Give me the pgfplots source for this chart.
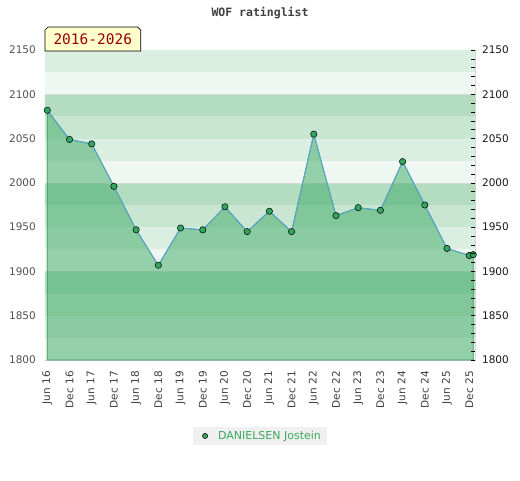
\documentclass[border=0pt]{standalone}
\usepackage{pgfplots}
\pgfplotsset{compat=1.18}
\usepackage{fontspec}
\setmainfont{DejaVu Sans}
\newfontfamily\monofont{DejaVu Sans Mono}
\definecolor{bandA}{HTML}{B3DCC1}
\definecolor{bandB}{HTML}{C8E6D2}
\definecolor{bandC}{HTML}{DBEEE2}
\definecolor{bandD}{HTML}{EEF7F1}
\definecolor{fillgreen}{RGB}{60,170,100}
\definecolor{edgegreen}{RGB}{50,150,85}
\definecolor{lineblue}{HTML}{5BA4D8}
\definecolor{markgreen}{RGB}{50,165,95}
\definecolor{legtext}{RGB}{58,168,92}
\definecolor{boxyellow}{HTML}{FFFFCC}
\definecolor{darkred}{HTML}{990000}
\begin{document}
\begin{tikzpicture}[x=1pt,y=1pt]
\path[use as bounding box] (0,0) rectangle (520,480);
\begin{axis}[
  at={(45pt,120pt)}, anchor=south west, scale only axis,
  width=430pt, height=310pt,
  xmin=-0.104, xmax=19.26, ymin=1800, ymax=2150,
  axis line style={draw=black!17},
  /pgf/number format/assume math mode=true,
  /pgf/number format/1000 sep={},
  ytick={1800,1850,...,2150},
  yticklabel style={font=\fontsize{10.5}{12}\selectfont, text=black!68, inner sep=0pt, xshift=-9pt},
  xtick={0,...,19},
  xticklabels={Jun 16,Dec 16,Jun 17,Dec 17,Jun 18,Dec 18,Jun 19,Dec 19,Jun 20,Dec 20,Jun 21,Dec 21,Jun 22,Dec 22,Jun 23,Dec 23,Jun 24,Dec 24,Jun 25,Dec 25},
  xticklabel style={font=\fontsize{10.5}{12}\selectfont, text=black!75, rotate=90, anchor=east, inner sep=0pt},
  xticklabel shift=11pt,
  major tick length=0pt,
  ytick pos=left, xtick pos=bottom,
  legend style={at={(0.5,-0.245)}, anchor=center, fill=black!6, draw=none,
    font=\fontsize{11}{13}\selectfont, text=legtext, inner xsep=4pt, inner ysep=2pt},
  legend image code/.code={\path[draw=none,fill=none] (0,0) rectangle (19pt,0); \draw[fill=markgreen, draw=black, line width=0.5pt] (8pt,0) circle (2.6pt);},
]
% background bands
\fill[bandC] (axis cs:-1,2125) rectangle (axis cs:21,2150);
\fill[bandD] (axis cs:-1,2100) rectangle (axis cs:21,2125);
\fill[bandA] (axis cs:-1,2075) rectangle (axis cs:21,2100);
\fill[bandB] (axis cs:-1,2050) rectangle (axis cs:21,2075);
\fill[bandC] (axis cs:-1,2025) rectangle (axis cs:21,2050);
\fill[bandD] (axis cs:-1,2000) rectangle (axis cs:21,2025);
\fill[bandA] (axis cs:-1,1975) rectangle (axis cs:21,2000);
\fill[bandB] (axis cs:-1,1950) rectangle (axis cs:21,1975);
\fill[bandC] (axis cs:-1,1925) rectangle (axis cs:21,1950);
\fill[bandD] (axis cs:-1,1900) rectangle (axis cs:21,1925);
\fill[bandA] (axis cs:-1,1875) rectangle (axis cs:21,1900);
\fill[bandB] (axis cs:-1,1850) rectangle (axis cs:21,1875);
\fill[bandC] (axis cs:-1,1825) rectangle (axis cs:21,1850);
\fill[bandD] (axis cs:-1,1800) rectangle (axis cs:21,1825);
\draw[black!15] (axis cs:-1,2100) -- (axis cs:21,2100);
\draw[black!15] (axis cs:-1,2000) -- (axis cs:21,2000);
\draw[black!15] (axis cs:-1,1900) -- (axis cs:21,1900);
\addplot[fill=fillgreen, fill opacity=0.5, draw=edgegreen, line width=0.8pt, forget plot] coordinates {
(0,2082) (1,2049) (2,2044) (3,1996) (4,1947) (5,1907) (6,1949) (7,1947) (8,1973) (9,1945)
(10,1968) (11,1945) (12,2055) (13,1963) (14,1972) (15,1969) (16,2024) (17,1975) (18,1926) (19,1918) (19.18,1919)
} \closedcycle;
\addplot[color=lineblue, line width=0.9pt, mark=*, mark size=3.2pt,
  mark options={fill=markgreen, draw=black, line width=0.5pt}] coordinates {
(0,2082) (1,2049) (2,2044) (3,1996) (4,1947) (5,1907) (6,1949) (7,1947) (8,1973) (9,1945)
(10,1968) (11,1945) (12,2055) (13,1963) (14,1972) (15,1969) (16,2024) (17,1975) (18,1926) (19,1918) (19.18,1919)
};
\addlegendentry{DANIELSEN Jostein}
\end{axis}
\begin{axis}[
  at={(45pt,120pt)}, anchor=south west, scale only axis,
  width=428.3pt, height=310pt,
  xmin=0, xmax=1, ymin=1800, ymax=2150,
  axis x line=none, axis y line*=right,
  axis line style={draw=none},
  /pgf/number format/assume math mode=true,
  /pgf/number format/1000 sep={},
  ytick={1800,1850,...,2150},
  minor ytick={1810,1820,...,2140},
  tick align=center,
  major tick length=4.2pt, minor tick length=4.2pt,
  tick style={black, line width=0.7pt},
  yticklabel style={font=\fontsize{10.5}{12}\selectfont, text=black!90, inner sep=0pt, anchor=west},
  yticklabel shift=6.5pt,
]
\end{axis}
% title
\node[font=\monofont\bfseries\fontsize{11.5}{13}\selectfont, text=black!75] at (260,467) {WOF ratinglist};
% period box
\draw[fill=boxyellow, draw=black, line width=0.7pt] (45,429) -- (45,450) -- (48,453) -- (137.7,453) -- (140.7,450) -- (140.7,429) -- cycle;
\node[font=\monofont\fontsize{14.5}{16}\selectfont, text=darkred] at (92.8,440.5) {2016-2026};
\end{tikzpicture}
\end{document}
